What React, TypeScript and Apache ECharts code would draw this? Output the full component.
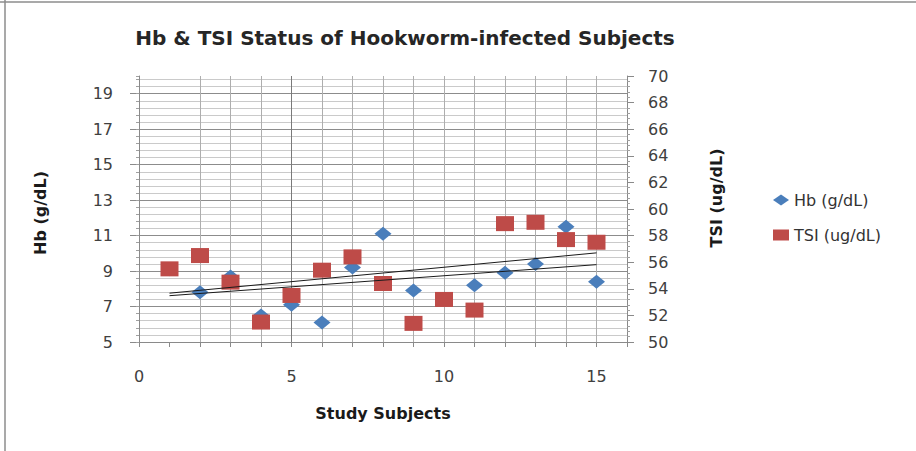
import React, { useEffect, useRef } from "react";
import * as echarts from "echarts";

const subjects = [1, 2, 3, 4, 5, 6, 7, 8, 9, 10, 11, 12, 13, 14, 15];
const hbValues = [9.1, 7.8, 8.7, 6.5, 7.1, 6.1, 9.2, 11.1, 7.9, 7.4, 8.2, 8.9, 9.4, 11.5, 8.4];
const tsiValues = [55.5, 56.5, 54.5, 51.5, 53.5, 55.4, 56.4, 54.4, 51.4, 53.2, 52.4, 58.9, 59.0, 57.7, 57.5];
const xTickLabels = [0, 5, 10, 15];
const hbName = "Hb (g/dL)";
const tsiName = "TSI (ug/dL)";

function trend(xs: number[], ys: number[]) {
  const n = xs.length;
  const mx = xs.reduce((a, b) => a + b, 0) / n;
  const my = ys.reduce((a, b) => a + b, 0) / n;
  let sxy = 0;
  let sxx = 0;
  for (let i = 0; i < n; i++) {
    sxy += (xs[i] - mx) * (ys[i] - my);
    sxx += (xs[i] - mx) * (xs[i] - mx);
  }
  const b = sxy / sxx;
  const a = my - b * mx;
  const x0 = xs[0];
  const x1 = xs[n - 1];
  return [
    [x0, a + b * x0],
    [x1, a + b * x1],
  ];
}

const FONT = "DejaVu Sans";

export default function App() {
  const ref = useRef<HTMLDivElement>(null);
  useEffect(() => {
    if (!ref.current) return;
    const chart = echarts.init(ref.current, undefined, { renderer: "svg" });
    const light = "#aeaeae";
    const vColors = [
      "rgba(0,0,0,0)",
      "rgba(0,0,0,0)",
      light, light, light,
      "#7a7a7a",
      light, light, light, light, light, light, light, light, light, light,
      "rgba(0,0,0,0)",
    ];
    const minorColors = ["rgba(0,0,0,0)", "#cacaca", "#cacaca", "#cacaca", "#cacaca"];
    chart.setOption({
      animation: false,
      backgroundColor: "#ffffff",
      textStyle: { fontFamily: FONT },
      grid: { left: 139, right: 289, top: 76, bottom: 109, containLabel: false },
      legend: {
        orient: "vertical",
        left: 768,
        top: 187,
        itemGap: 19,
        itemWidth: 16,
        itemHeight: 11,
        textStyle: { fontFamily: FONT, fontSize: 16, color: "#333333" },
        data: [
          { name: hbName, icon: "diamond" },
          { name: tsiName, icon: "rect" },
        ],
      },
      xAxis: {
        type: "value",
        min: 0,
        max: 16,
        interval: 1,
        axisLine: { show: true, lineStyle: { color: "#8a8a8a", width: 1 } },
        axisTick: { show: true, length: 5, lineStyle: { color: "#8a8a8a" } },
        axisLabel: {
          margin: 26,
          fontSize: 16,
          color: "#404040",
          fontFamily: FONT,
          formatter: (v: number) => (xTickLabels.indexOf(v) >= 0 ? String(v) : ""),
        },
        splitLine: { show: true, lineStyle: { color: vColors, width: 1 } },
      },
      yAxis: [
        {
          type: "value",
          position: "left",
          min: 5,
          max: 20,
          interval: 2,
          axisLine: { show: true, lineStyle: { color: "#8a8a8a" } },
          axisTick: { show: true, length: 9, lineStyle: { color: "#8a8a8a" } },
          axisLabel: {
            margin: 26,
            fontSize: 16,
            color: "#404040",
            fontFamily: FONT,
            showMaxLabel: false,
          },
          splitLine: { show: true, showMaxLine: false, lineStyle: { color: "#8c8c8c" } },
        },
        {
          type: "value",
          position: "left",
          min: 5,
          max: 20,
          interval: 0.4,
          axisLine: { show: false },
          axisTick: { show: true, length: 3, lineStyle: { color: "#a0a0a0" } },
          axisLabel: { show: false },
          splitLine: { show: true, showMaxLine: false, lineStyle: { color: minorColors } },
        },
        {
          type: "value",
          position: "right",
          min: 50,
          max: 70,
          interval: 2,
          axisLine: { show: true, lineStyle: { color: "#8a8a8a" } },
          axisTick: { show: true, length: 7, lineStyle: { color: "#8a8a8a" } },
          minorTick: { show: true, splitNumber: 5, length: 3, lineStyle: { color: "#a0a0a0" } },
          axisLabel: { margin: 21, fontSize: 16, color: "#404040", fontFamily: FONT },
          splitLine: { show: false },
        },
      ],
      series: [
        {
          name: hbName,
          type: "scatter",
          yAxisIndex: 0,
          z: 2,
          symbol: "diamond",
          symbolSize: [17, 14],
          itemStyle: { color: "#4A7EBB", opacity: 1 },
          data: subjects.map((x, i) => [x, hbValues[i]]),
        },
        {
          name: tsiName,
          type: "scatter",
          yAxisIndex: 2,
          z: 3,
          symbol: "rect",
          symbolSize: [18, 15],
          itemStyle: { color: "#BE4B48", opacity: 1 },
          data: subjects.map((x, i) => [x, tsiValues[i]]),
        },
        {
          name: "Hb trend",
          type: "line",
          yAxisIndex: 0,
          symbol: "none",
          silent: true,
          lineStyle: { color: "#1a1a1a", width: 1 },
          data: trend(subjects, hbValues),
          z: 5,
        },
        {
          name: "TSI trend",
          type: "line",
          yAxisIndex: 2,
          symbol: "none",
          silent: true,
          lineStyle: { color: "#1a1a1a", width: 1 },
          data: trend(subjects, tsiValues),
          z: 5,
        },
      ],
      graphic: [
        {
          type: "line",
          shape: { x1: 0, y1: 2, x2: 916, y2: 2 },
          style: { stroke: "#8c8c8c", lineWidth: 1.5 },
        },
        {
          type: "line",
          shape: { x1: 5, y1: 0, x2: 5, y2: 451 },
          style: { stroke: "#8c8c8c", lineWidth: 1.5 },
        },
        {
          type: "text",
          x: 405,
          y: 38,
          style: {
            text: "Hb & TSI Status of Hookworm-infected Subjects",
            fontFamily: FONT,
            fontSize: 20,
            fontWeight: "bold",
            fill: "#262626",
            align: "center",
            verticalAlign: "middle",
          },
        },
        {
          type: "text",
          x: 383,
          y: 413,
          style: {
            text: "Study Subjects",
            fontFamily: FONT,
            fontSize: 16,
            fontWeight: "bold",
            fill: "#1a1a1a",
            align: "center",
            verticalAlign: "middle",
          },
        },
        {
          type: "text",
          x: 40,
          y: 213,
          rotation: Math.PI / 2,
          style: {
            text: "Hb (g/dL)",
            fontFamily: FONT,
            fontSize: 16,
            fontWeight: "bold",
            fill: "#1a1a1a",
            align: "center",
            verticalAlign: "middle",
          },
        },
        {
          type: "text",
          x: 716,
          y: 198,
          rotation: Math.PI / 2,
          style: {
            text: "TSI (ug/dL)",
            fontFamily: FONT,
            fontSize: 16,
            fontWeight: "bold",
            fill: "#1a1a1a",
            align: "center",
            verticalAlign: "middle",
          },
        },
      ],
    });
    return () => chart.dispose();
  }, []);
  return (
    <div
      ref={ref}
      style={{ position: "fixed", left: 0, top: 0, width: 916, height: 451 }}
    />
  );
}
